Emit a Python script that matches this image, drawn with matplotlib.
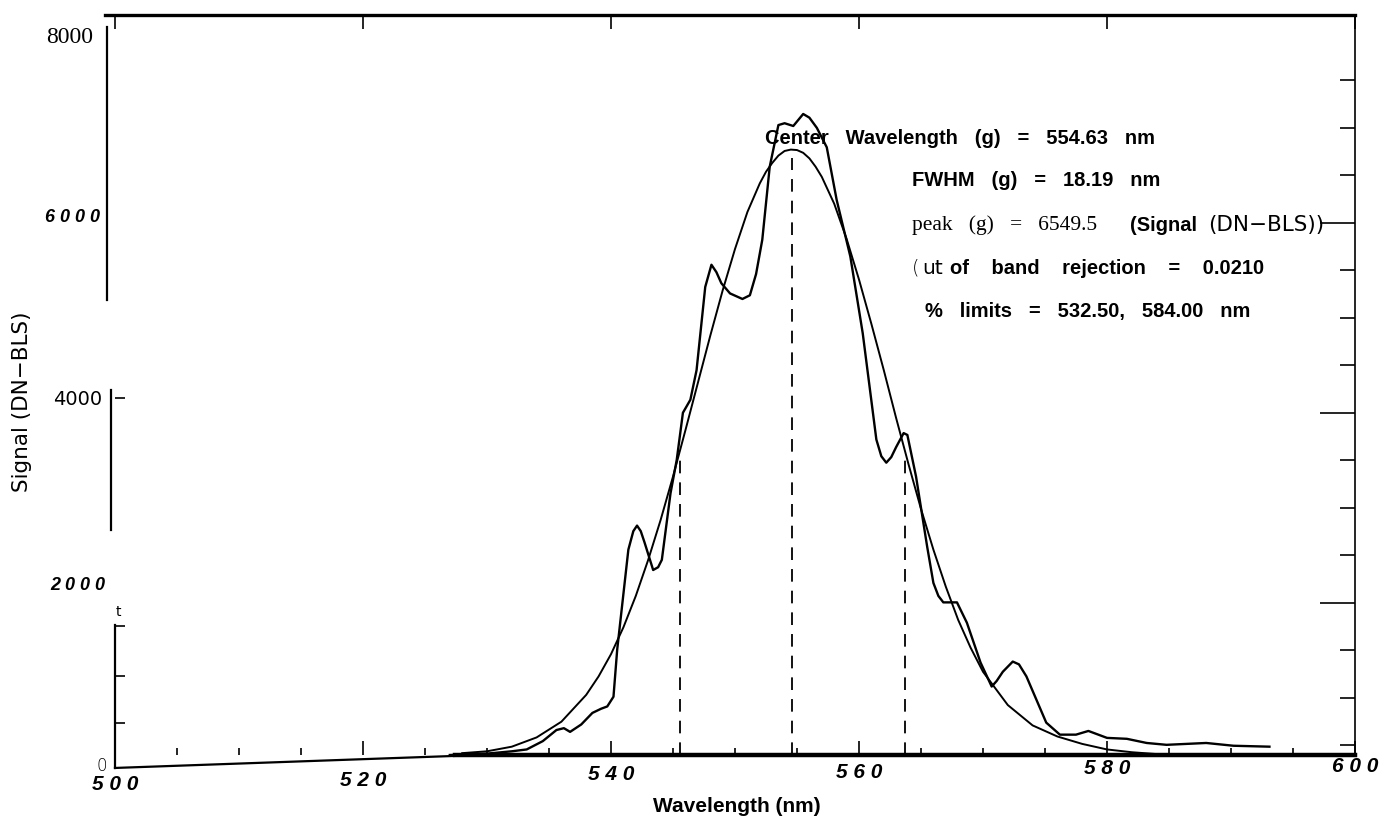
import matplotlib
matplotlib.use("Agg")
import matplotlib.pyplot as plt
from matplotlib.ticker import MultipleLocator, FixedLocator, NullFormatter

W, H = 1384, 831

wl_meas = [527.0, 530.0, 532.0, 533.2, 534.5, 535.6, 536.2, 536.7, 537.6, 538.5,
           539.2, 539.7, 540.2, 540.5, 541.4, 541.8, 542.1, 542.4, 542.7, 543.4,
           543.8, 544.1, 544.8, 545.3, 545.8, 546.4, 546.9, 547.6, 548.1, 548.5,
           548.9, 549.6, 550.6, 551.2, 551.7, 552.2, 552.8, 553.5, 554.0, 554.7,
           555.5, 556.0, 556.6, 557.4, 558.2, 559.3, 560.3, 561.4, 561.8, 562.2,
           562.6, 563.0, 563.6, 563.9, 564.6, 565.5, 566.0, 566.4, 566.8, 567.9,
           568.7, 569.8, 570.7, 571.1, 571.6, 572.4, 572.9, 573.5, 575.1, 576.2,
           577.5, 578.5, 580.0, 581.6, 583.2, 584.8, 588.0, 590.2, 593.1]
sig_meas = [0, 15, 40, 60, 150, 270, 290, 250, 330, 455,
            500, 525, 630, 1140, 2220, 2420, 2480, 2420, 2300, 2000,
            2030, 2110, 2830, 3190, 3700, 3840, 4160, 5060, 5300, 5220,
            5100, 4990, 4930, 4970, 5200, 5570, 6360, 6810, 6830, 6800,
            6930, 6890, 6780, 6570, 6000, 5390, 4560, 3410, 3230, 3160,
            3220, 3330, 3480, 3460, 3010, 2250, 1860, 1720, 1650, 1650,
            1430, 1000, 740, 800, 900, 1010, 980, 850, 350, 220,
            220, 260, 185, 175, 130, 110, 130, 100, 90]

# gaussian fit trace
wl_fit = [528, 530, 532, 534, 536, 538, 539, 540, 541, 542, 543, 544, 545, 546,
          547, 548, 549, 550, 551, 552, 552.5, 553, 553.5, 554, 554.5, 555, 555.5,
          556, 556.5, 557, 558, 559, 560, 561, 562, 563, 564, 565, 566, 567, 568,
          569, 570, 572, 574, 576, 578, 580, 582, 584]
sig_fit = [20, 40, 90, 190, 360, 650, 850, 1090, 1380, 1720, 2110, 2540, 3010, 3510,
           4020, 4530, 5020, 5470, 5870, 6180, 6305, 6400, 6480, 6530, 6545, 6540, 6510,
           6450, 6360, 6250, 5960, 5580, 5140, 4660, 4160, 3640, 3140, 2660, 2220, 1820, 1460,
           1160, 900, 540, 320, 200, 120, 60, 30, 10]

# fit results printed on the chart
center_wl = 554.63
fwhm = 18.19
peak = 6549.5
dash_x = [center_wl - fwhm / 2, center_wl, center_wl + fwhm / 2]
dash_top = [3200, 6450, 3200]

xtick_vals = [500, 520, 540, 560, 580, 600]
xtick_text = ["5 0 0", "5 2 0", "5 4 0", "5 6 0", "5 8 0", "6 0 0"]
xtick_drop = [30, 25, 20, 17, 14, 12]        # px below axis line (scan is skewed)

fig = plt.figure(figsize=(W / 100, H / 100), dpi=100)
ax = fig.add_axes([115 / W, 1 - 755 / H, 1240 / W, 740 / H])
ax.set_xlim(500, 600)
ax.set_ylim(0, 8000)

ax.plot(wl_meas, sig_meas, color="black", lw=1.7, solid_joinstyle="round")
ax.plot(wl_fit, sig_fit, color="black", lw=1.4)
ax.vlines(dash_x, 0, dash_top, colors="black", lw=1.3, linestyles=(0, (7, 5)))

# spines: thick bottom line, top/right, broken left axis drawn by hand
ax.spines["bottom"].set_bounds(527.4, 600)
ax.spines["bottom"].set_linewidth(3.2)
ax.spines["top"].set_linewidth(2.4)
ax.spines["top"].set_bounds(499.2, 600)
ax.spines["right"].set_linewidth(1.2)
ax.spines["left"].set_visible(False)
ax.plot([500, 527.4], [-140, -10], color="black", lw=1.6, clip_on=False)
for sx, sy in [((499.35, 499.35), (7870, 4920)),
               ((499.68, 499.68), (3950, 2430)),
               ((500.0, 500.0), (1405, -140))]:
    ax.plot(sx, sy, color="black", lw=1.6, clip_on=False)

ax.xaxis.set_major_locator(FixedLocator(xtick_vals))
ax.xaxis.set_minor_locator(MultipleLocator(5))
ax.xaxis.set_major_formatter(NullFormatter())
ax.tick_params(axis="x", which="major", direction="in", length=10, width=1.2, top=True)
ax.tick_params(axis="x", which="minor", direction="in", length=5, width=1.2, top=False)

# left axis: only the few short marks that survive on the scan
ax.yaxis.set_major_locator(FixedLocator([]))
ax.yaxis.set_minor_locator(FixedLocator([350, 850, 1400, 3860]))
ax.tick_params(axis="y", which="minor", direction="in", length=7, width=1.2)

# right axis ticks every 500, longer at 2000/4000/6000
ax2 = ax.twinx()
ax2.set_ylim(395, 8185)
for s in ax2.spines.values():
    s.set_visible(False)
ax2.yaxis.set_major_locator(FixedLocator([2000, 4000, 6000]))
ax2.yaxis.set_minor_locator(FixedLocator([500, 1000, 1500, 2500, 3000, 3500, 4500, 5000,
                                          5500, 6500, 7000, 7500]))
ax2.yaxis.set_major_formatter(NullFormatter())
ax2.tick_params(axis="y", which="major", direction="in", length=25, width=1.2)
ax2.tick_params(axis="y", which="minor", direction="in", length=11, width=1.2)

sans = ["Liberation Sans", "DejaVu Sans"]

# x tick labels, bold italic and spaced like the scan
for v, t, d in zip(xtick_vals, xtick_text, xtick_drop):
    ax.annotate(t, xy=(v, 0), xycoords=("data", "axes fraction"),
                xytext=(0, -d * 0.72), textcoords="offset points",
                ha="center", va="center", fontsize=15, fontweight="bold",
                fontstyle="italic", family=sans)

# y tick labels, each in the font it has on the scan
ylabs = [(0, "0", dict(family="DejaVu Sans", fontsize=12, fontweight="light"), 8, 11),
         (2000, "2 0 0 0", dict(family=sans, fontsize=13, fontweight="bold", fontstyle="italic"), 10, 16),
         (4000, "4000", dict(family="DejaVu Sans", fontsize=14), 13, 15),
         (6000, "6 0 0 0", dict(family=sans, fontsize=13, fontweight="bold", fontstyle="italic"), 15, 18),
         (8000, "8000", dict(family="Liberation Serif", fontsize=17), 22, 23)]
for v, t, kw, dx, dy in ylabs:
    ax.annotate(t, xy=(0, v), xycoords=("axes fraction", "data"),
                xytext=(-dx * 0.72, -dy * 0.72), textcoords="offset points",
                ha="right", va="center", **kw)

fig.text(22 / W, 1 - 402 / H, "Signal (DN\u2212BLS)", rotation=90, ha="center", va="center",
         family="DejaVu Sans", fontsize=15.5)
fig.text(737 / W, 1 - 806 / H, "Wavelength (nm)", ha="center", va="center",
         family=sans, fontsize=15, fontweight="bold")
fig.text(118 / W, 1 - 612 / H, "t", ha="center", va="center", family="DejaVu Sans", fontsize=10)

# fit summary block
bold = dict(family=sans, fontsize=14.5, fontweight="bold", va="center", ha="left")
fig.text(765 / W, 1 - 138 / H, "Center   Wavelength   (g)   =   554.63   nm", **bold)
fig.text(912 / W, 1 - 181 / H, "FWHM   (g)   =   18.19   nm", **bold)
fig.text(912 / W, 1 - 225 / H, "peak   (g)   =   6549.5", family="Liberation Serif",
         fontsize=15.5, va="center", ha="left")
fig.text(1130 / W, 1 - 225 / H, "(Signal", **bold)
fig.text(1208 / W, 1 - 225 / H, "(DN\u2212BLS))", family="DejaVu Sans", fontsize=15.5,
         va="center", ha="left")
fig.text(912 / W, 1 - 268 / H, "(", family="DejaVu Sans", fontsize=14, fontweight="light",
         va="center", ha="left")
fig.text(922 / W, 1 - 268 / H, "ut", family="DejaVu Sans", fontsize=14.5, va="center", ha="left")
fig.text(950 / W, 1 - 268 / H, "of    band    rejection    =    0.0210", **bold)
fig.text(925 / W, 1 - 311 / H, "%   limits   =   532.50,   584.00   nm", **bold)

fig.savefig("out.png", dpi=100)
